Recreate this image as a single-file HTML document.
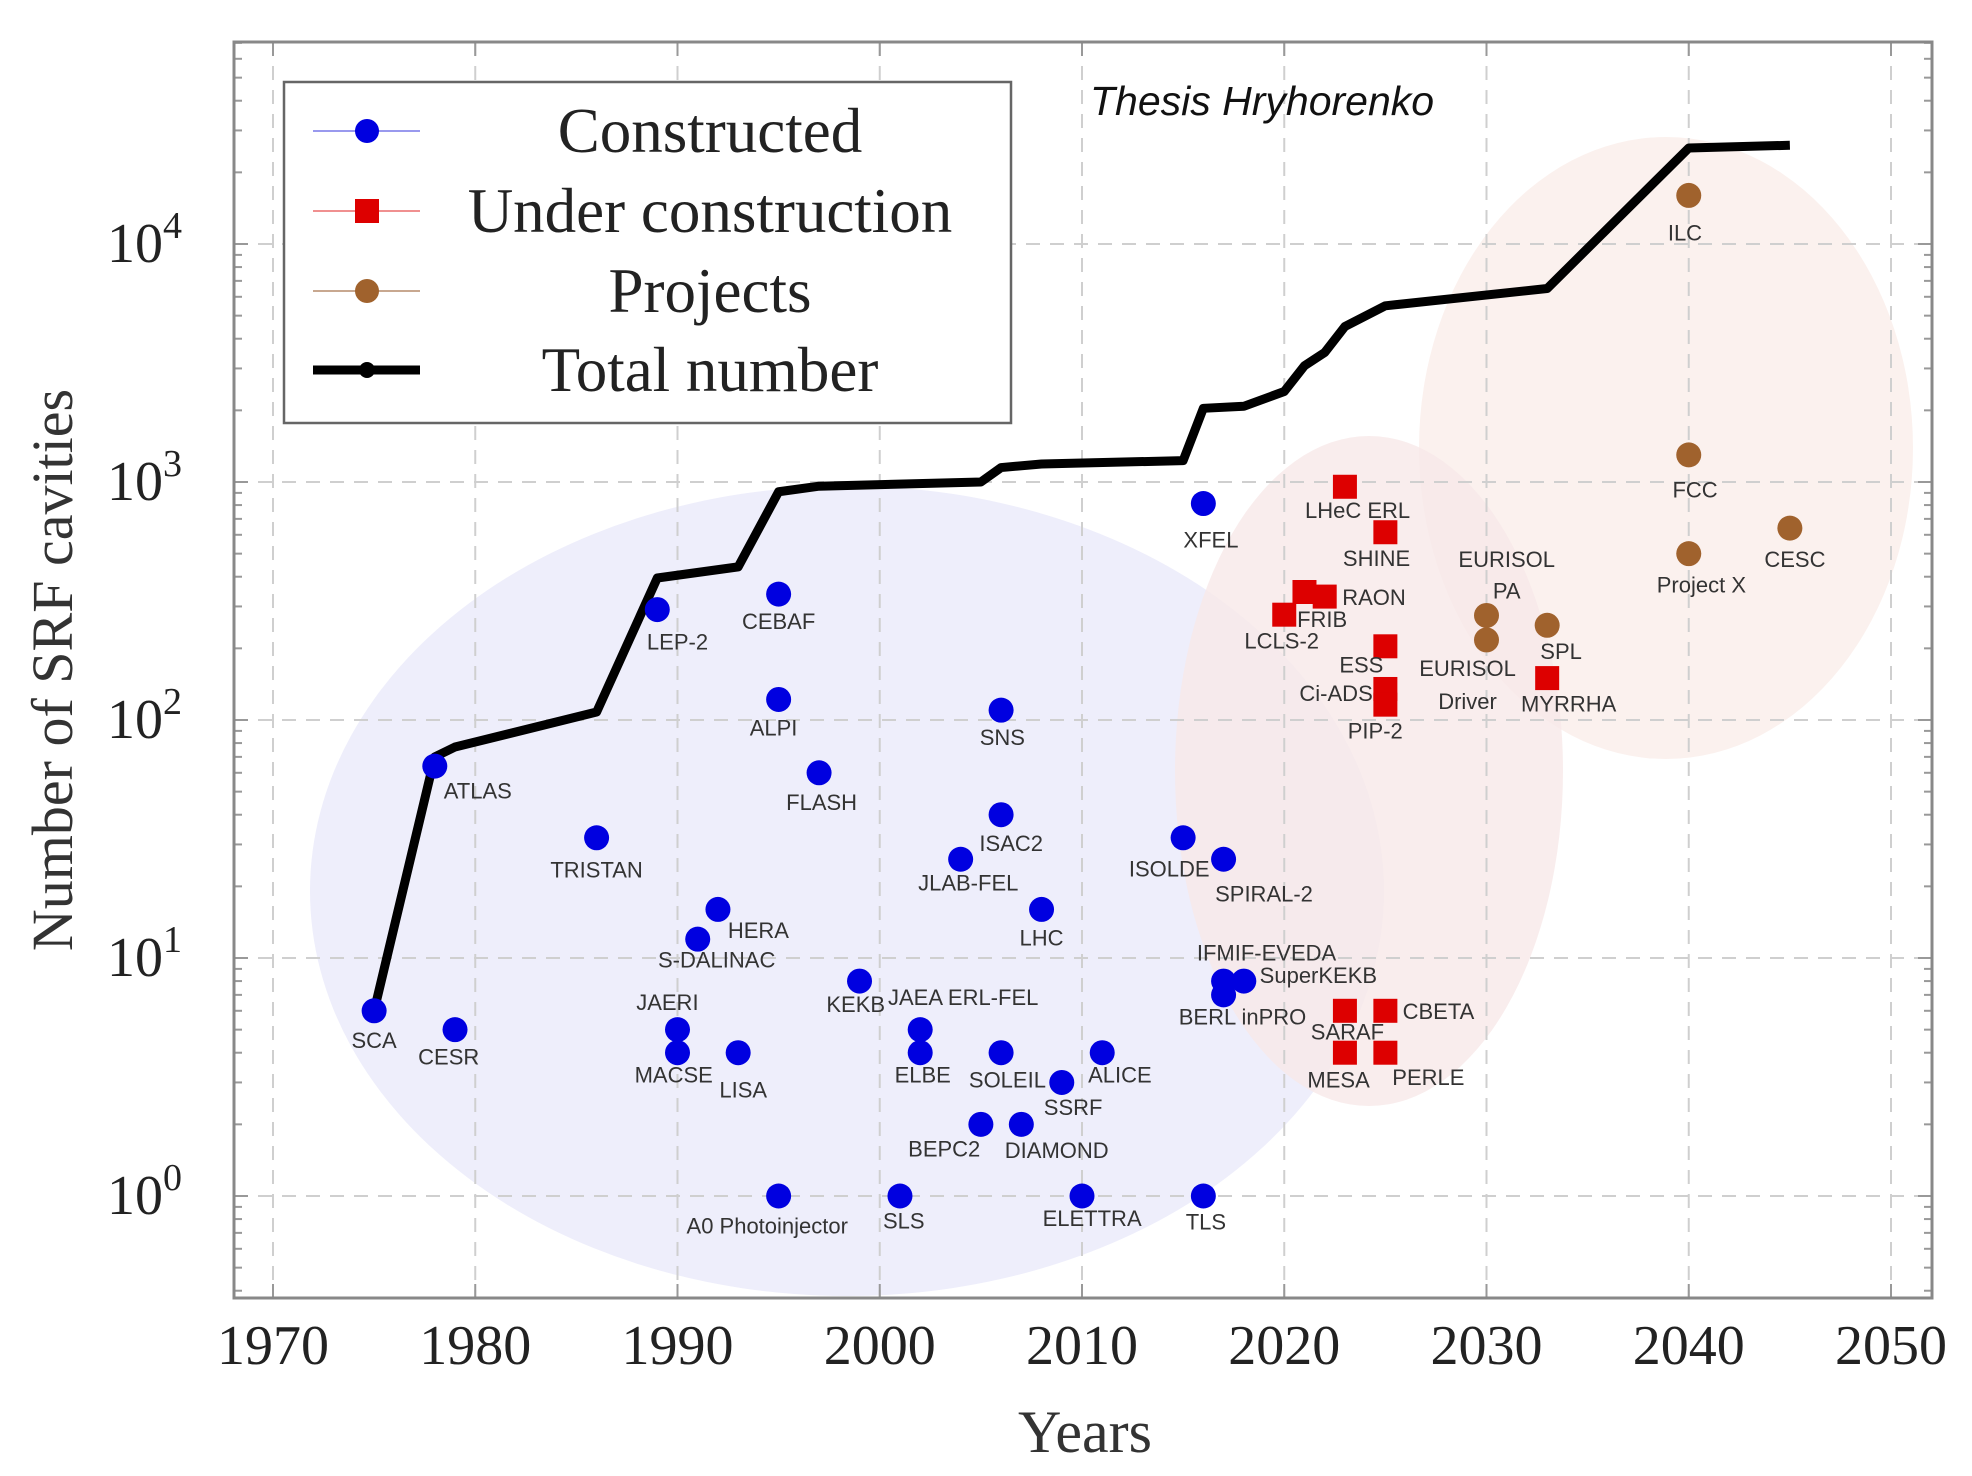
<!DOCTYPE html>
<html><head><meta charset="utf-8"><style>
html,body{margin:0;padding:0;background:#fff;}
svg{display:block;}
.lbl{font-family:"Liberation Sans",sans-serif;font-size:22px;fill:#333;text-anchor:middle;dominant-baseline:middle;}
.tick{font-family:"Liberation Serif",serif;font-size:56px;fill:#222;}
</style></head><body>
<svg id="chart" width="1972" height="1476" viewBox="0 0 1972 1476" xmlns="http://www.w3.org/2000/svg"></svg>
<script>
// ---- data ----
const constructedNames = ["SCA","ATLAS","CESR","TRISTAN","LEP-2","CEBAF","ALPI","FLASH","HERA","S-DALINAC","JAERI","MACSE","LISA","KEKB","JAEA ERL-FEL","ELBE","A0 Photoinjector","SLS","SNS","ISAC2","JLAB-FEL","LHC","SOLEIL","SSRF","ALICE","BEPC2","DIAMOND","ELETTRA","TLS","XFEL","ISOLDE","SPIRAL-2","IFMIF-EVEDA","SuperKEKB","BERL inPRO"];
const constructedYears = [1975,1978,1979,1986,1989,1995,1995,1997,1992,1991,1990,1990,1993,1999,2002,2002,1995,2001,2006,2006,2004,2008,2006,2009,2011,2005,2007,2010,2016,2016,2015,2017,2017,2018,2017];
const constructedValues = [6,64,5,32,291,338,122,60,16,12,5,4,4,8,5,4,1,1,110,40,26,16,4,3,4,2,2,1,1,812,32,26,8,8,7];
const underNames = ["LHeC ERL","SHINE","FRIB","RAON","LCLS-2","ESS","Ci-ADS","PIP-2","SARAF","CBETA","MESA","PERLE","MYRRHA"];
const underYears = [2023,2025,2021,2022,2020,2025,2025,2025,2023,2025,2023,2025,2033];
const underValues = [955,615,345,330,277,204,135,116,6,6,4,4,150];
const projectNames = ["ILC","FCC","Project X","CESC","EURISOL PA","EURISOL Driver","SPL"];
const projectYears = [2040,2040,2040,2045,2030,2030,2033];
const projectValues = [16000,1300,500,640,275,217,250];
const totalYears = [1975,1978,1979,1986,1989,1993,1995,1997,2005,2006,2008,2015,2016,2018,2020,2021,2022,2023,2025,2033,2040,2045];
const totalValues = [6,70,77,108,395,440,910,960,1000,1150,1190,1230,2040,2080,2400,3080,3500,4500,5500,6500,25300,26000];
const xTicks = [1970,1980,1990,2000,2010,2020,2030,2040,2050];
const yTicks = [0,1,2,3,4];

// ---- label offsets (display px, scaled by S) ----
const S = 1.264;
const labelOff = {
 "SCA":[0,25],"ATLAS":[34,21],"CESR":[-5,23],"TRISTAN":[0,27],"LEP-2":[16,27],"CEBAF":[0,23],"ALPI":[-4,24],"FLASH":[2,25],
 "HERA":[32,18],"S-DALINAC":[15,18],"JAERI":[-8,-20],"MACSE":[-3,19],"LISA":[4,31],"KEKB":[-3,20],"JAEA ERL-FEL":[34,-24],
 "ELBE":[2,19],"A0 Photoinjector":[-9,25],"SLS":[3,21],"SNS":[1,23],"ISAC2":[8,24],"JLAB-FEL":[6,20],"LHC":[0,24],
 "SOLEIL":[5,23],"SSRF":[9,21],"ALICE":[14,19],"BEPC2":[-29,21],"DIAMOND":[28,22],"ELETTRA":[8,19],"TLS":[2,22],
 "XFEL":[6,30],"ISOLDE":[-11,26],"SPIRAL-2":[32,29],"IFMIF-EVEDA":[34,-21],"SuperKEKB":[59,-3],"BERL inPRO":[15,19],
 "LHeC ERL":[10,20],"SHINE":[-7,22],"FRIB":[14,23],"RAON":[39,2],"LCLS-2":[-2,22],"ESS":[-19,16],"Ci-ADS":[-39,5],
 "PIP-2":[-8,22],"SARAF":[2,18],"CBETA":[42,2],"MESA":[-5,23],"PERLE":[34,21],"MYRRHA":[17,22],
 "ILC":[-3,31],"FCC":[5,29],"Project X":[10,26],"CESC":[4,26],"SPL":[11,22]
};

// ---- axes ----
const L=234,R=1932,T=42,B=1298;
function xs(y){return 273+(y-1970)*(1891-273)/80;}
function ys(v){return 1196-Math.log10(v)*238;}
function ysl(l){return 1196-l*238;}
const NS="http://www.w3.org/2000/svg";
const svg=document.getElementById('chart');
function mk(tag,attrs,parent){const e=document.createElementNS(NS,tag);for(const k in attrs)e.setAttribute(k,attrs[k]);(parent||svg).appendChild(e);return e;}

// ellipses
const bg=mk('g',{});


let e1=mk('ellipse',{cx:847,cy:891,rx:537,ry:405,fill:'#eeeefb'},bg);


let e2=mk('ellipse',{cx:1666,cy:448,rx:247,ry:311,fill:'#fbf1ee'},bg);


let e3=mk('ellipse',{cx:1369,cy:771,rx:194,ry:335,fill:'#f8e8e8','fill-opacity':0.8},bg);



// grid
const grid=mk('g',{stroke:'#cfcfcf','stroke-width':2,'stroke-dasharray':'14 10'});


xTicks.forEach(t=>{mk('line',{x1:xs(t),x2:xs(t),y1:T,y2:B},grid);});
yTicks.forEach(t=>{mk('line',{x1:L,x2:R,y1:ysl(t),y2:ysl(t)},grid);});

// minor ticks
const mt=mk('g',{stroke:'#999','stroke-width':2});


for(let d=-1;d<5;d++){for(let m=2;m<10;m++){const l=d+Math.log10(m);if(l<-0.43||l>4.85)continue;const y=ysl(l);
 mk('line',{x1:L,x2:L+8,y1:y,y2:y},mt);mk('line',{x1:R-8,x2:R,y1:y,y2:y},mt);}}
yTicks.forEach(t=>{const y=ysl(t);mk('line',{x1:L,x2:L+14,y1:y,y2:y},mt);mk('line',{x1:R-14,x2:R,y1:y,y2:y},mt);});
xTicks.forEach(t=>{mk('line',{x1:xs(t),x2:xs(t),y1:B-14,y2:B},mt);mk('line',{x1:xs(t),x2:xs(t),y1:T,y2:T+14},mt);});

// frame
const fr=mk('rect',{x:L,y:T,width:R-L,height:B-T,fill:'none',stroke:'#888','stroke-width':3});



// tick labels
xTicks.forEach(t=>{const tx=mk('text',{x:xs(t),y:1364,'text-anchor':'middle',class:'tick'});tx.textContent=t;
 
 });
yTicks.forEach(t=>{const tx=mk('text',{x:182,y:ysl(t)+18,'text-anchor':'end',class:'tick'});
 tx.appendChild(document.createTextNode('10'));const sp=mk('tspan',{dy:-24,'font-size':38},tx);sp.textContent=t;
 
 });

// axis titles
const xt=mk('text',{x:1085,y:1452,'text-anchor':'middle','font-family':'"Liberation Serif",serif','font-size':60,fill:'#333'});
xt.textContent='Years';


const yt=mk('text',{x:0,y:0,'text-anchor':'middle','font-family':'"Liberation Serif",serif','font-size':58,fill:'#333',transform:'translate(72,670) rotate(-90)'});
yt.textContent='Number of SRF cavities';



// total line
let pts=totalYears.map((y,i)=>xs(y)+','+ys(totalValues[i])).join(' ');
const tl=mk('polyline',{points:pts,fill:'none',stroke:'#000','stroke-width':9,'stroke-linejoin':'round'});



function label(name,x,y){
 const g=mk('g',{});
 if(name==="EURISOL PA"){[["EURISOL",-43],["PA",-18]].forEach(p=>{const t=mk('text',{x:x+16*S,y:y+p[1]*S,class:'lbl'},g);t.textContent=p[0];});}
 else if(name==="EURISOL Driver"){[["EURISOL",24],["Driver",50]].forEach(p=>{const t=mk('text',{x:x-15*S,y:y+p[1]*S,class:'lbl'},g);t.textContent=p[0];});}
 else{const o=labelOff[name]||[0,24];const t=mk('text',{x:x+o[0]*S,y:y+o[1]*S,class:'lbl'},g);t.textContent=name;}
 
 
}
// constructed
constructedNames.forEach((n,i)=>{const x=xs(constructedYears[i]),y=ys(constructedValues[i]);
 const c=mk('circle',{cx:x,cy:y,r:12.5,fill:'#0000e0'});
 
 
 label(n,x,y);});
underNames.forEach((n,i)=>{const x=xs(underYears[i]),y=ys(underValues[i]);
 const r=mk('rect',{x:x-12,y:y-12,width:24,height:24,fill:'#dd0000'});
 
 
 label(n,x,y);});
projectNames.forEach((n,i)=>{const x=xs(projectYears[i]),y=ys(projectValues[i]);
 const c=mk('circle',{cx:x,cy:y,r:12.5,fill:'#a0622d'});
 
 
 label(n,x,y);});

// watermark
const th=mk('text',{x:1090,y:115,'font-family':'"Liberation Sans",sans-serif','font-style':'italic','font-size':41,fill:'#111'});
th.textContent='Thesis Hryhorenko';



// legend
const lg=mk('g',{});


mk('rect',{x:284,y:82,width:727,height:341,fill:'#fff',stroke:'#666','stroke-width':2.5},lg);
const legNames=['Constructed','Under construction','Projects','Total number'];
const legY=[131,211,291,370];
legNames.forEach((n,i)=>{
 const g=mk('g',{},lg);
 
 
 const y=legY[i];
 if(i===0){mk('line',{x1:313,x2:420,y1:y,y2:y,stroke:'#9999ee','stroke-width':2},g);mk('circle',{cx:367,cy:y,r:12,fill:'#0000e0'},g);}
 if(i===1){mk('line',{x1:313,x2:420,y1:y,y2:y,stroke:'#f09090','stroke-width':2},g);mk('rect',{x:355,y:y-12,width:24,height:24,fill:'#dd0000'},g);}
 if(i===2){mk('line',{x1:313,x2:420,y1:y,y2:y,stroke:'#c8a890','stroke-width':2},g);mk('circle',{cx:367,cy:y,r:12,fill:'#a0622d'},g);}
 if(i===3){mk('line',{x1:313,x2:420,y1:y,y2:y,stroke:'#000','stroke-width':9},g);mk('circle',{cx:367,cy:y,r:8,fill:'#000'},g);}
 const t=mk('text',{x:710,y:y+21,'text-anchor':'middle','font-family':'"Liberation Serif",serif','font-size':63,fill:'#222'},g);
 t.textContent=n;
});
</script>
</body></html>
